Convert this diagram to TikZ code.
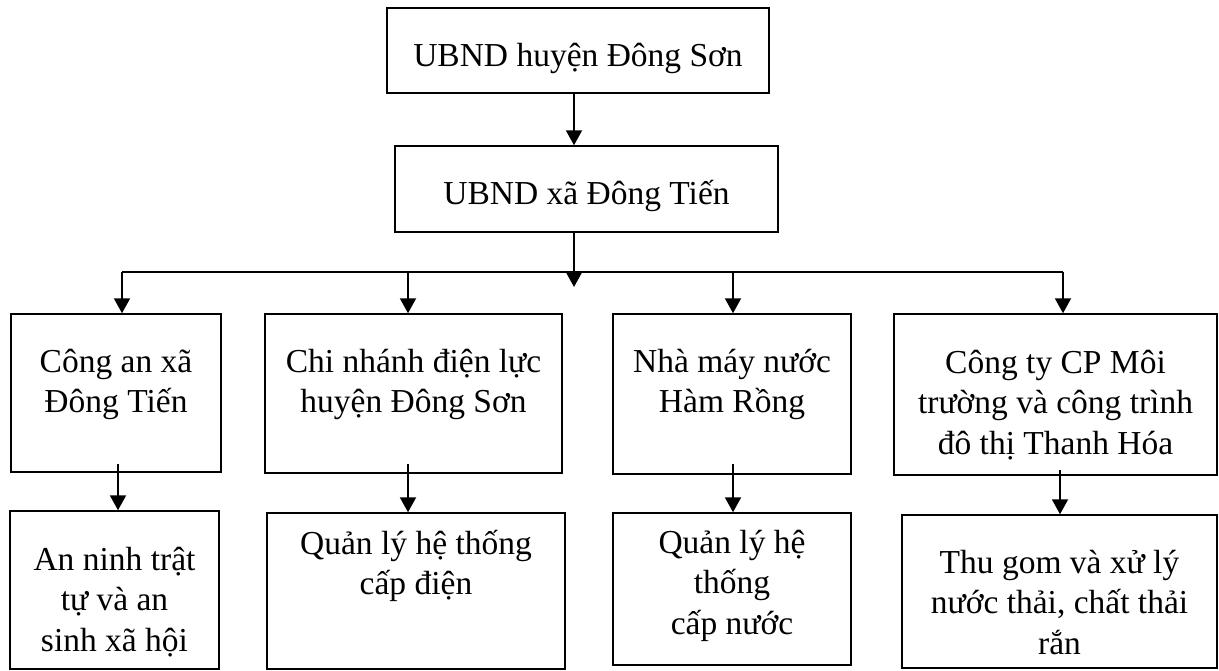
\documentclass[tikz,border=0pt]{standalone}
\usepackage{fontspec}
\setmainfont{Liberation Serif}
\usetikzlibrary{arrows.meta}

\begin{document}
\begin{tikzpicture}[x=0.5pt, y=-0.5pt,
		box/.style={draw, line width=0.75pt, inner sep=0pt},
		txt/.style={anchor=north, align=center, inner sep=0pt, font=\fontsize{16.75pt}{20.25pt}\selectfont},
		arr/.style={-{Triangle[width=8pt, length=7.5pt]}, line width=1pt}]
		\useasboundingbox (0,0) rectangle (1219,670);

		\node [box, minimum width=191pt,   minimum height=42.5pt] (H)  at (578,50.5)   {};
		\node [box, minimum width=191.5pt, minimum height=43pt]   (X)  at (586.5,189)  {};
		\node [box, minimum width=105pt,   minimum height=79pt]   (C1) at (116,393)    {};
		\node [box, minimum width=148.5pt, minimum height=79.5pt] (C2) at (413.5,393.5){};
		\node [box, minimum width=119pt,   minimum height=80pt]   (C3) at (732,394)    {};
		\node [box, minimum width=161.5pt, minimum height=80.5pt] (C4) at (1055.5,394.5){};
		\node [box, minimum width=104.5pt, minimum height=79pt]   (D1) at (114.5,590)  {};
		\node [box, minimum width=149pt,   minimum height=78pt]   (D2) at (416,591)    {};
		\node [box, minimum width=119pt,   minimum height=76pt]   (D3) at (732,589)    {};
		\node [box, minimum width=157.5pt, minimum height=76.5pt] (D4) at (1059.5,591.5){};

		\node [txt] (Ht)  at (578,37.7)     {\strut UBND huyện Đông Sơn};
		\node [txt] (Xt)  at (586.5,175.7)  {\strut UBND xã Đông Tiến};
		\node [txt] (C1t) at (116,343.7)    {\strut Công an xã\\Đông Tiến};
		\node [txt] (C2t) at (413.5,343.7)  {\strut Chi nhánh điện lực\\huyện Đông Sơn};
		\node [txt] (C3t) at (732,343.7)    {\strut Nhà máy nước\\Hàm Rồng};
		\node [txt] (C4t) at (1055.5,344.7) {\strut Công ty CP Môi\\trường và công trình\\đô thị Thanh Hóa};
		\node [txt] (D1t) at (114.5,541.7)  {\strut An ninh trật\\tự và an\\sinh xã hội};
		\node [txt] (D2t) at (416,525.7)    {\strut Quản lý hệ thống\\cấp điện};
		\node [txt] (D3t) at (732,524.7)    {\strut Quản lý hệ\\thống\\cấp nước};
		\node [txt] (D4t) at (1059.5,544.7) {\strut Thu gom và xử lý\\nước thải, chất thải\\rắn};

		\coordinate (m)  at (574,0);
		\coordinate (mb) at (574,287);
		\coordinate (b1) at (122,272);
		\coordinate (b2) at (408,272);
		\coordinate (b3) at (733,272);
		\coordinate (b4) at (1063,272);
		\coordinate (l1) at (118,0);
		\coordinate (l2) at (408,0);
		\coordinate (l3) at (733,0);
		\coordinate (l4) at (1060,0);

		\path[arr] (H.south -| m) edge (X.north -| m);
		\path[arr] (X.south -| m) edge (mb);
		\draw[line width=1pt] (b1) -- (b4);
		\path[arr] (b1) edge (C1.north -| b1);
		\path[arr] (b2) edge (C2.north -| b2);
		\path[arr] (b3) edge (C3.north -| b3);
		\path[arr] (b4) edge (C4.north -| b4);
		\path[arr] ([yshift=4.5pt]C1.south -| l1) edge (D1.north -| l1);
		\path[arr] ([yshift=5pt]C2.south -| l2) edge (D2.north -| l2);
		\path[arr] ([yshift=5.5pt]C3.south -| l3) edge (D3.north -| l3);
		\path[arr] ([yshift=3pt]C4.south -| l4) edge (D4.north -| l4);
	\end{tikzpicture}
\end{document}
